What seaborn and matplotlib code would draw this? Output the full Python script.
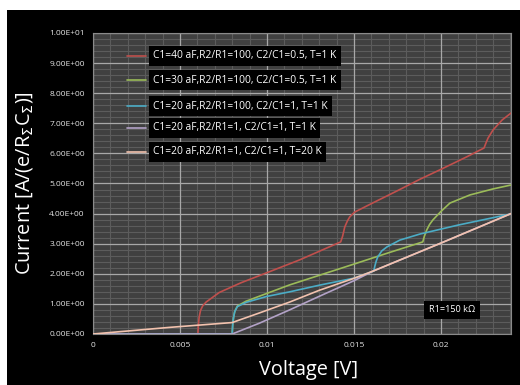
import numpy as np
import pandas as pd
import matplotlib
matplotlib.use("Agg")
import matplotlib.pyplot as plt
from matplotlib.ticker import FixedLocator, FuncFormatter, NullLocator
from matplotlib.lines import Line2D
from matplotlib.patches import Rectangle
import seaborn as sns

# ---------------- data ----------------
labels = [
    "C1=40 aF,R2/R1=100, C2/C1=0.5, T=1 K",
    "C1=30 aF,R2/R1=100, C2/C1=0.5, T=1 K",
    "C1=20 aF,R2/R1=100, C2/C1=1, T=1 K",
    "C1=20 aF,R2/R1=1, C2/C1=1, T=1 K",
    "C1=20 aF,R2/R1=1, C2/C1=1, T=20 K",
]

v_red = [0, 0.00603, 0.00606, 0.0061, 0.00618, 0.0063, 0.0065, 0.00726, 0.0085,
         0.00997, 0.01187, 0.01424, 0.01435, 0.01447, 0.01462, 0.01476, 0.01504,
         0.0160, 0.0175, 0.01879, 0.0200, 0.0215, 0.02248, 0.02258, 0.02271,
         0.0230, 0.02352, 0.02403]
i_red = [0, 0, 0.3, 0.55, 0.78, 0.93, 1.06, 1.38, 1.70,
         2.03, 2.46, 3.06, 3.25, 3.55, 3.75, 3.89, 4.05,
         4.33, 4.76, 5.14, 5.47, 5.89, 6.18, 6.33, 6.51,
         6.78, 7.11, 7.34]

v_green = [0, 0.00800, 0.00803, 0.00808, 0.00815, 0.0083, 0.0088, 0.0100, 0.0113,
           0.01504, 0.0170, 0.01896, 0.01905, 0.01918, 0.01935, 0.01954, 0.0200,
           0.02052, 0.02167, 0.0230, 0.02403]
i_green = [0, 0, 0.3, 0.55, 0.75, 0.93, 1.09, 1.35, 1.63,
           2.33, 2.70, 3.06, 3.25, 3.45, 3.64, 3.79, 4.07,
           4.35, 4.62, 4.82, 4.95]

v_blue = [0, 0.00800, 0.00803, 0.00808, 0.00815, 0.0083, 0.0088, 0.0100, 0.0113,
          0.0130, 0.01504, 0.01614, 0.0162, 0.01628, 0.01637, 0.0166, 0.01689,
          0.01764, 0.01879, 0.0210, 0.02403]
i_blue = [0, 0, 0.3, 0.55, 0.75, 0.91, 1.05, 1.25, 1.40,
          1.62, 1.86, 2.09, 2.25, 2.42, 2.56, 2.76, 2.89,
          3.12, 3.32, 3.62, 3.99]

v_purple = [0, 0.00800, 0.00957, 0.0113, 0.0130, 0.0150, 0.0161, 0.0200, 0.02403]
i_purple = [0, 0, 0.36, 0.80, 1.25, 1.77, 2.09, 3.02, 4.00]

v_peach = [0, 0.0044, 0.0080, 0.00957, 0.0113, 0.0130, 0.0150, 0.0161, 0.0200, 0.02403]
i_peach = [0, 0.22, 0.38, 0.70, 1.06, 1.45, 1.85, 2.09, 3.02, 4.00]

series_v = [v_red, v_green, v_blue, v_purple, v_peach]
series_i = [i_red, i_green, i_blue, i_purple, i_peach]
colors = ["#c0504d", "#9bbb59", "#4bacc6", "#b3a2c7", "#f2c2ae"]

x_ticks = [0, 0.005, 0.01, 0.015, 0.02]
x_tick_labels = ["0", "0.005", "0.01", "0.015", "0.02"]
y_ticks = [0, 1, 2, 3, 4, 5, 6, 7, 8, 9, 10]

# ---------------- figure ----------------
sns.set_theme(style="dark")
plt.rcParams["font.family"] = ["Open Sans", "DejaVu Sans"]

W, H = 520, 385
fig = plt.figure(figsize=(W / 100, H / 100), dpi=100, facecolor="white")
fig.patches.append(Rectangle((7 / W, 0), 1 - 7 / W, 1 - 10 / H,
                             transform=fig.transFigure, facecolor="black",
                             edgecolor="none", zorder=-10))

rect = [93 / W, (H - 334) / H, (511 - 93) / W, (334 - 33) / H]
XMAX, YMAX = 0.02403, 10

# background axes: plot-area fill + minor grid only
axbg = fig.add_axes(rect, zorder=0)
axbg.set_facecolor("#404040")
axbg.set_xlim(0, XMAX)
axbg.set_ylim(0, YMAX)
axbg.xaxis.set_major_locator(FixedLocator([k * 0.001 for k in range(25) if k % 5]))
axbg.yaxis.set_major_locator(FixedLocator([k * 0.2 for k in range(51) if k % 5]))
axbg.grid(True, which="major", color="#5c5c5c", lw=0.8)
axbg.tick_params(length=0, labelleft=False, labelbottom=False)
for s in axbg.spines.values():
    s.set_visible(False)

# main axes: transparent, major grid + data
ax = fig.add_axes(rect, zorder=1)
ax.patch.set_alpha(0)

for v, i, c in zip(series_v, series_i, colors):
    df = pd.DataFrame({"V": v, "I": i})
    sns.lineplot(data=df, x="V", y="I", sort=False, color=c, lw=1.2, ax=ax,
                 zorder=3)

ax.set_xlim(0, XMAX)
ax.set_ylim(0, YMAX)
ax.set_xticks(x_ticks)
ax.set_xticklabels(x_tick_labels)
ax.set_yticks(y_ticks)
ax.yaxis.set_major_formatter(FuncFormatter(lambda y, p: f"{y:.2E}"))
ax.xaxis.set_minor_locator(NullLocator())
ax.yaxis.set_minor_locator(NullLocator())

ax.grid(which="major", color="#a8a8a8", lw=0.9)
ax.set_axisbelow(True)
for s in ax.spines.values():
    s.set_color("#8a8a8a")
    s.set_linewidth(0.8)

ax.tick_params(axis="both", which="major", colors="#e6e6e6", labelsize=6,
               length=3, width=0.8, direction="out", pad=3)

ax.set_xlabel("Voltage [V]", color="white", fontsize=14.3, labelpad=7)
ax.xaxis.set_label_coords(0.515, -0.085)
ax.set_ylabel(r"Current [A/(e/R$_{\Sigma}$C$_{\Sigma}$)]", color="white",
              fontsize=14.3, labelpad=10)

# ---------------- legend (Excel style boxes) ----------------
def fx(px):
    return (px - 93) / (511 - 93)

def fy(py):
    return (334 - py) / (334 - 33)

leg_y = [56, 80, 106, 128, 152]
for lab, c, py in zip(labels, colors, leg_y):
    ax.add_line(Line2D([fx(127), fx(146)], [fy(py), fy(py)], color=c, lw=1.2,
                       transform=ax.transAxes, zorder=5))
    ax.text(fx(153), fy(py), lab, transform=ax.transAxes, color="white",
            fontsize=7.4, va="center", ha="left", zorder=6,
            bbox=dict(boxstyle="square,pad=0.42", facecolor="black",
                      edgecolor="none"))

ax.text(fx(452), fy(310), "R1=150 k\u03a9", transform=ax.transAxes,
        color="white", fontsize=6.6, va="center", ha="center", zorder=6,
        bbox=dict(boxstyle="square,pad=0.5", facecolor="black", edgecolor="none"))

fig.savefig("out.png", dpi=100, facecolor="white")
